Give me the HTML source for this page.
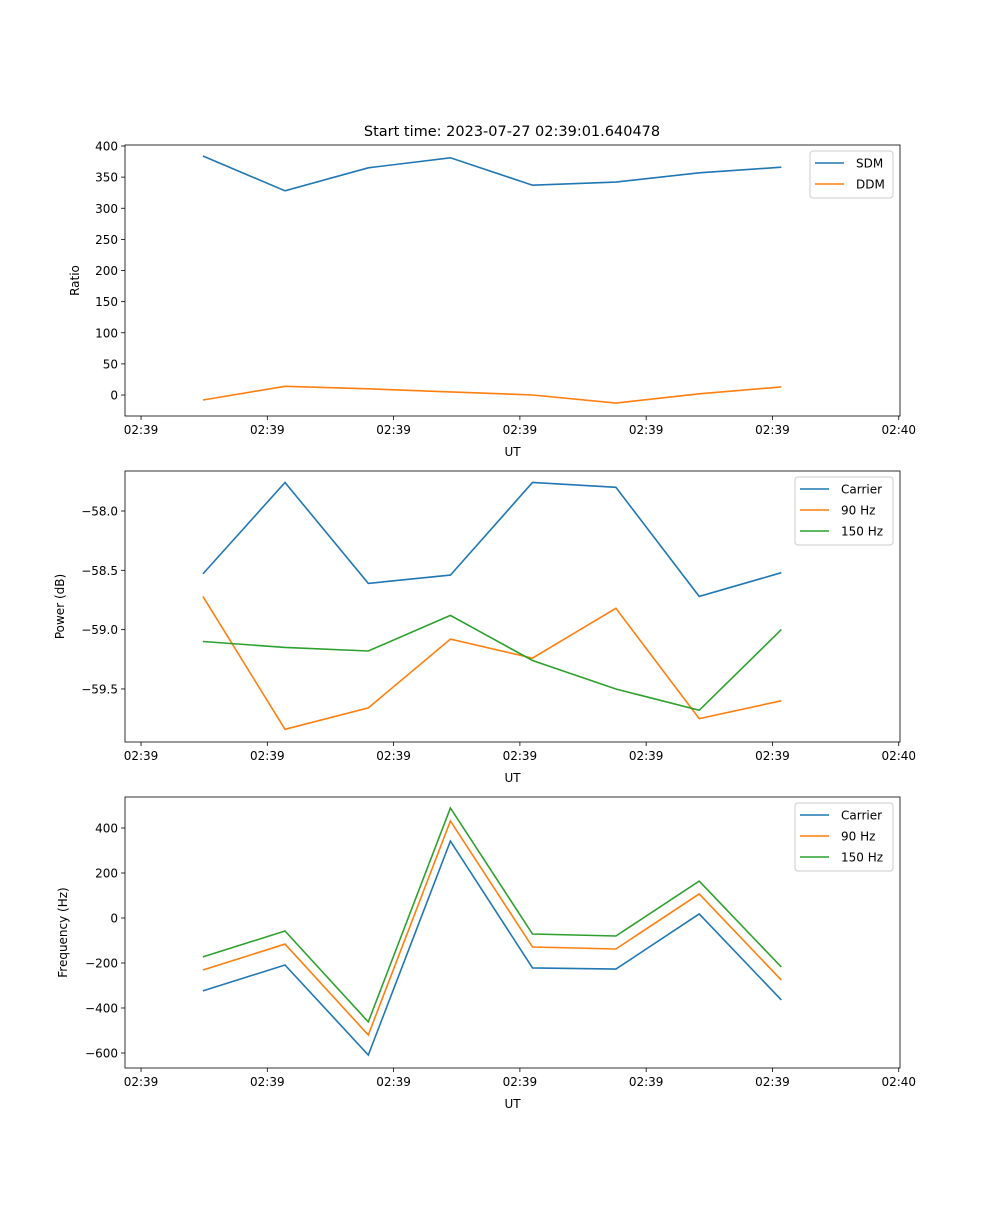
<!DOCTYPE html>
<html><head><meta charset="utf-8"><style>
body{margin:0;background:#fff}
svg text{font-family:"DejaVu Sans","Liberation Sans",sans-serif;fill:#000}
</style></head><body>
<svg id="fig" width="1000" height="1200" xmlns="http://www.w3.org/2000/svg">
<text x="512" y="136" font-size="14.5" text-anchor="middle">Start time: 2023-07-27 02:39:01.640478</text>
</svg>
<script>
const xTickLabels=["02:39","02:39","02:39","02:39","02:39","02:39","02:40"];
const xTickVals=[0,1,2,3,4,5,6];
const times=[0.49,1.14,1.80,2.45,3.10,3.76,4.42,5.07];
const sdm=[384,328,365,381,337,342,357,366];
const ddm=[-8,14,10,5,0,-13,2,13];
const pCarrier=[-58.53,-57.76,-58.61,-58.54,-57.76,-57.80,-58.72,-58.52];
const p90=[-58.72,-59.84,-59.66,-59.08,-59.24,-58.82,-59.75,-59.60];
const p150=[-59.10,-59.15,-59.18,-58.88,-59.26,-59.50,-59.68,-59.00];
const fCarrier=[-324,-209,-609,342,-222,-227,18,-364];
const f90=[-231,-116,-520,431,-129,-138,107,-276];
const f150=[-173,-58,-462,489,-71,-80,164,-218];
const yTicks1=[0,50,100,150,200,250,300,350,400];
const yTicks2=[-59.5,-59.0,-58.5,-58.0];
const yTickLabels2=["\u221259.5","\u221259.0","\u221258.5","\u221258.0"];
const yTicks3=[-600,-400,-200,0,200,400];
const yTickLabels3=["\u2212600","\u2212400","\u2212200","0","200","400"];

const NS="http://www.w3.org/2000/svg";
const svg=document.getElementById('fig');
const C=["#1f77b4","#ff7f0e","#2ca02c"];
function mk(tag,attrs,parent){const e=document.createElementNS(NS,tag);for(const k in attrs)e.setAttribute(k,attrs[k]);(parent||svg).appendChild(e);return e;}
const X0=125,X1=900,xmin=-0.127,xmax=6.01;
function xs(t){return X0+(t-xmin)/(xmax-xmin)*(X1-X0);}

function panel(idx,top,bot,ymin,ymax,yt,ytl,ylabel,series,names,legend){
  const g=mk('g',{});
  
  
  const ys=v=>bot-(v-ymin)/(ymax-ymin)*(bot-top);
  xTickVals.forEach((v,i)=>{
    const x=xs(v);
    const t=mk('line',{x1:x,x2:x,y1:bot,y2:bot+4,stroke:'#000','stroke-width':0.8},g);
    
    
    const l=mk('text',{x:x,y:bot+18,'font-size':12,'text-anchor':'middle'},g);
    l.textContent=xTickLabels[i];
    
    
  });
  const xl=mk('text',{x:(X0+X1)/2,y:bot+40,'font-size':12,'text-anchor':'middle'},g);
  xl.textContent='UT';
  
  
  yt.forEach((v,i)=>{
    const y=ys(v);
    const t=mk('line',{x1:X0-4,x2:X0,y1:y,y2:y,stroke:'#000','stroke-width':0.8},g);
    
    
    const l=mk('text',{x:X0-7,y:y+4.5,'font-size':12,'text-anchor':'end'},g);
    l.textContent=ytl?ytl[i]:String(v);
    
    
  });
  const lx=idx===1?79:idx===2?64:67;
  const yl=mk('text',{x:lx,y:(top+bot)/2,'font-size':12,'text-anchor':'middle',transform:`rotate(-90 ${lx} ${(top+bot)/2})`},g);
  yl.textContent=ylabel;
  
  
  series.forEach((s,k)=>{
    const pts=s.map((v,i)=>xs(times[i]).toFixed(1)+','+ys(v).toFixed(1)).join(' ');
    const p=mk('polyline',{points:pts,fill:'none',stroke:C[k],'stroke-width':1.6},g);
    
    
  });
  const fr=mk('rect',{x:X0,y:top,width:X1-X0,height:bot-top,fill:'none',stroke:'#000','stroke-width':0.8},g);
  
  
  const lg=mk('g',{},g);
  
  
  const h=5+names.length*21;
  mk('rect',{x:legend[0],y:top+6,width:893-legend[0],height:h,rx:3,fill:'#fff',stroke:'#ccc','stroke-width':1},lg);
  names.forEach((n,k)=>{
    const y=top+18+k*21;
    mk('line',{x1:legend[0]+5,x2:legend[0]+34,y1:y,y2:y,stroke:C[k],'stroke-width':1.6},lg);
    const t=mk('text',{x:legend[0]+46,y:y+4.5,'font-size':12},lg);
    t.textContent=n;
    
    
  });
}
panel(1,145,416,-33.7,401.6,yTicks1,null,'Ratio',[sdm,ddm],['SDM','DDM'],[810]);
panel(2,471,742,-59.947,-57.663,yTicks2,yTickLabels2,'Power (dB)',[pCarrier,p90,p150],['Carrier','90 Hz','150 Hz'],[795]);
panel(3,797,1068,-666.7,537.8,yTicks3,yTickLabels3,'Frequency (Hz)',[fCarrier,f90,f150],['Carrier','90 Hz','150 Hz'],[795]);
</script>
</body></html>
